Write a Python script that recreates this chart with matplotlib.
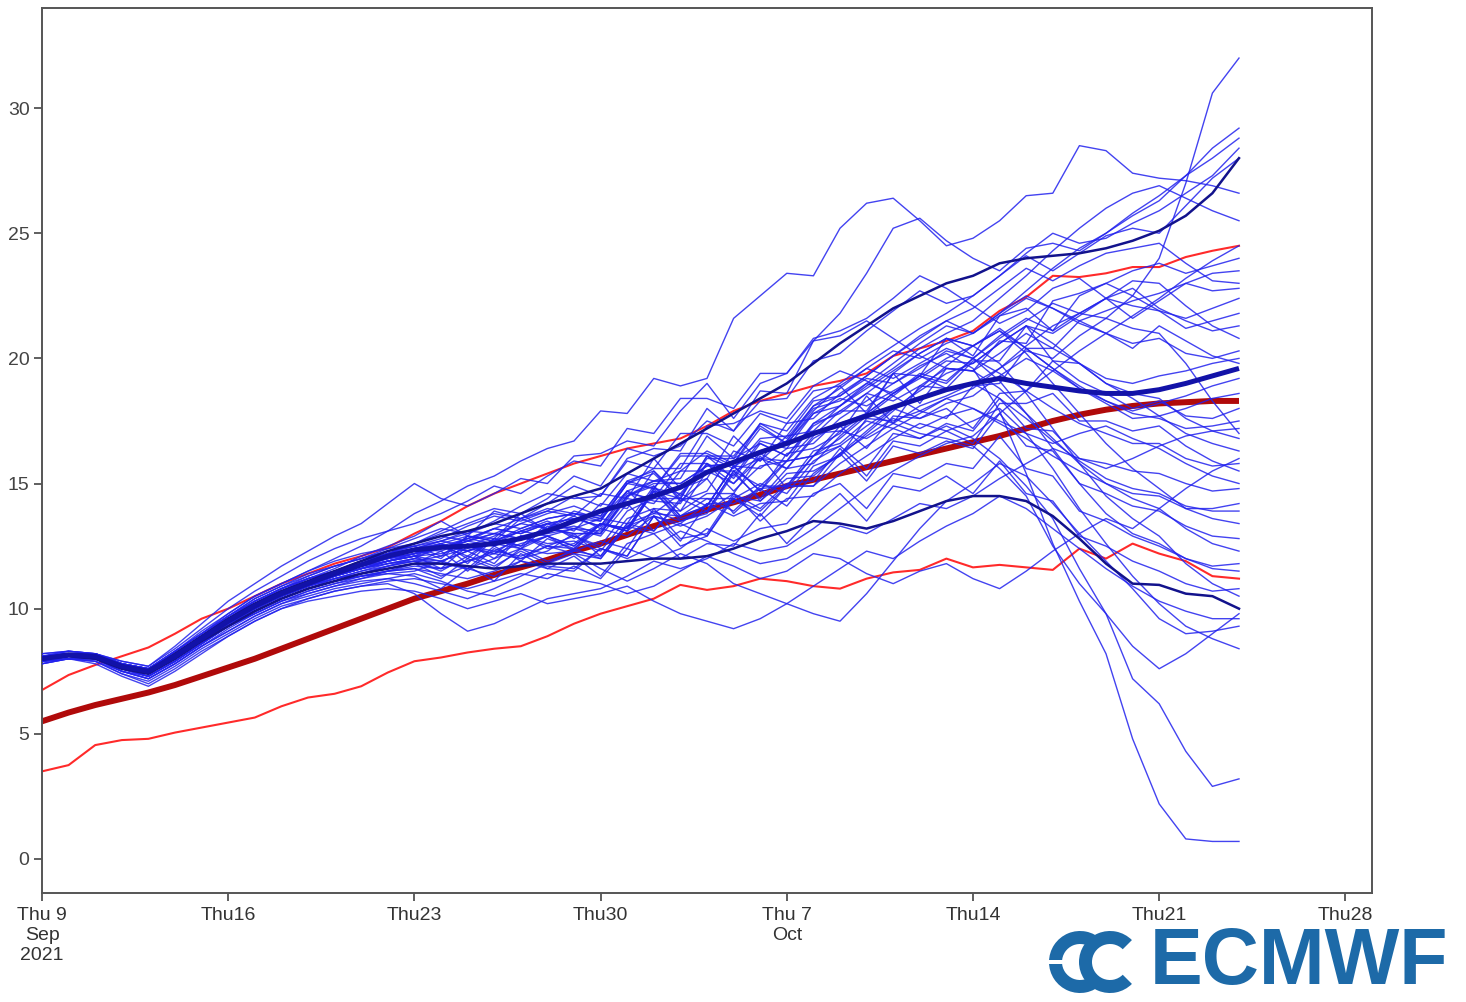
import numpy as np
import matplotlib
matplotlib.use("Agg")
import matplotlib.pyplot as plt
from matplotlib.patches import Wedge, Rectangle

# ---------------- data ----------------
days = list(range(46))                       # days after Thu 9 Sep 2021
tick_days = [0, 7, 14, 21, 28, 35, 42, 49]
tick_labels = ["Thu 9\nSep\n2021", "Thu16", "Thu23", "Thu30",
               "Thu 7\nOct", "Thu14", "Thu21", "Thu28"]
y_ticks = [0, 5, 10, 15, 20, 25, 30]

clim_mean = [5.5, 5.85, 6.15, 6.4, 6.65, 6.95, 7.3, 7.65, 8.0, 8.4,
             8.8, 9.2, 9.6, 10.0, 10.4, 10.7, 11.0, 11.35, 11.65, 11.95,
             12.3, 12.6, 12.95, 13.3, 13.6, 13.95, 14.25, 14.55, 14.9, 15.15,
             15.4, 15.65, 15.9, 16.15, 16.4, 16.65, 16.9, 17.2, 17.5, 17.75,
             17.95, 18.1, 18.2, 18.25, 18.3, 18.3]
clim_upper = [6.75, 7.35, 7.75, 8.1, 8.45, 9.0, 9.6, 10.0, 10.5, 11.0,
              11.4, 11.8, 12.1, 12.45, 13.0, 13.5, 14.1, 14.6, 15.0, 15.4,
              15.8, 16.1, 16.4, 16.6, 16.8, 17.3, 17.9, 18.3, 18.6, 18.9,
              19.1, 19.4, 20.1, 20.4, 20.7, 21.1, 21.9, 22.45, 23.3, 23.25,
              23.4, 23.65, 23.65, 24.05, 24.3, 24.5]
clim_lower = [3.5, 3.75, 4.55, 4.75, 4.8, 5.05, 5.25, 5.45, 5.65, 6.1,
              6.45, 6.6, 6.9, 7.45, 7.9, 8.05, 8.25, 8.4, 8.5, 8.9,
              9.4, 9.8, 10.1, 10.4, 10.95, 10.75, 10.9, 11.2, 11.1, 10.9,
              10.8, 11.2, 11.45, 11.55, 12.0, 11.65, 11.75, 11.65, 11.55, 12.4,
              12.0, 12.6, 12.2, 11.9, 11.3, 11.2]
ens_mean = [8.0, 8.15, 8.1, 7.7, 7.5, 8.1, 8.8, 9.5, 10.1, 10.6,
            11.0, 11.4, 11.75, 12.1, 12.35, 12.45, 12.5, 12.6, 12.8, 13.1,
            13.5, 13.9, 14.2, 14.5, 14.85, 15.45, 15.85, 16.25, 16.6, 17.0,
            17.35, 17.7, 18.05, 18.4, 18.75, 19.0, 19.2, 19.0, 18.85, 18.7,
            18.6, 18.6, 18.75, 19.0, 19.3, 19.6]
hires_a = [8.0, 8.2, 8.1, 7.7, 7.5, 8.2, 8.9, 9.6, 10.2, 10.7,
           11.1, 11.5, 11.9, 12.3, 12.6, 12.9, 13.1, 13.4, 13.8, 14.2,
           14.5, 14.8, 15.4, 16.0, 16.6, 17.2, 17.8, 18.4, 19.0, 19.8,
           20.6, 21.3, 22.0, 22.5, 23.0, 23.3, 23.8, 24.0, 24.1, 24.2,
           24.4, 24.7, 25.1, 25.7, 26.6, 28.0]
hires_b = [8.0, 8.1, 8.0, 7.6, 7.4, 8.0, 8.7, 9.3, 9.9, 10.4,
           10.8, 11.1, 11.4, 11.6, 11.8, 11.8, 11.7, 11.6, 11.7, 11.8,
           11.8, 11.8, 11.9, 12.0, 12.0, 12.1, 12.4, 12.8, 13.1, 13.5,
           13.4, 13.2, 13.5, 13.9, 14.3, 14.5, 14.5, 14.3, 13.7, 12.8,
           11.8, 11.0, 10.95, 10.6, 10.5, 10.0]

m01 = [8.0, 8.2, 8.1, 7.8, 7.6, 8.2, 8.9, 9.6, 10.2, 10.7,
       11.1, 11.5, 11.9, 12.2, 12.5, 12.1, 12.9, 12.7, 13.6, 13.2,
       13.9, 13.6, 14.7, 13.8, 14.6, 15.8, 14.7, 15.7, 15.9, 17.0,
       17.1, 16.8, 17.4, 18.1, 18.5, 19.0, 19.6, 20.3, 20.0, 20.9,
       21.6, 22.5, 24.0, 27.0, 30.6, 32.0]
m02 = [8.1, 8.3, 8.2, 7.8, 7.6, 8.3, 9.0, 9.8, 10.5, 11.0,
       11.5, 12.0, 12.5, 13.1, 13.8, 14.3, 14.9, 15.3, 15.9, 16.4,
       16.7, 17.9, 17.8, 19.2, 18.9, 19.2, 21.6, 22.5, 23.4, 23.3,
       25.2, 26.2, 26.4, 25.5, 24.5, 24.8, 25.5, 26.5, 26.6, 28.5,
       28.3, 27.4, 27.2, 27.1, 26.9, 26.6]
m03 = [8.0, 8.2, 8.2, 7.8, 7.5, 8.2, 8.9, 9.6, 10.2, 10.8,
       11.3, 11.7, 12.0, 12.4, 12.8, 13.2, 13.0, 13.5, 14.1, 14.6,
       14.4, 14.5, 16.0, 16.4, 16.3, 18.0, 17.1, 18.7, 18.6, 20.7,
       21.8, 23.4, 25.2, 25.6, 24.7, 24.0, 23.5, 24.4, 24.6, 24.3,
       25.0, 25.8, 26.5, 27.3, 28.0, 28.8]
m04 = [8.2, 8.3, 8.2, 7.9, 7.7, 8.5, 9.4, 10.3, 11.0, 11.7,
       12.3, 12.9, 13.4, 14.2, 15.0, 14.4, 14.1, 14.6, 15.2, 15.0,
       16.1, 16.2, 16.7, 16.5, 17.9, 19.0, 17.6, 19.0, 19.4, 20.8,
       21.1, 21.6, 22.4, 23.3, 22.8, 22.1, 21.4, 21.9, 22.8, 23.2,
       22.4, 21.6, 22.3, 23.0, 23.4, 23.5]
m05 = [7.9, 8.1, 8.1, 7.7, 7.5, 8.1, 8.9, 9.6, 10.2, 10.7,
       11.2, 11.6, 12.1, 12.5, 12.9, 13.5, 12.9, 13.9, 13.6, 13.9,
       13.7, 14.6, 14.4, 16.0, 14.8, 15.2, 16.9, 15.9, 17.4, 17.6,
       18.6, 19.3, 20.1, 20.8, 21.5, 21.0, 21.8, 22.7, 23.6, 24.4,
       25.0, 25.7, 26.3, 27.3, 28.4, 29.2]
m06 = [8.0, 8.2, 8.0, 7.6, 7.4, 8.0, 8.8, 9.5, 10.1, 10.6,
       11.0, 11.5, 11.9, 12.2, 12.4, 12.7, 12.5, 12.9, 13.4, 13.2,
       13.0, 13.0, 14.5, 15.0, 15.0, 15.7, 15.8, 17.4, 17.1, 18.4,
       19.0, 19.8, 20.5, 21.2, 21.8, 22.5, 23.3, 24.2, 25.0, 24.6,
       24.8, 25.4, 25.9, 26.6, 27.3, 28.4]
m07 = [8.1, 8.2, 8.1, 7.7, 7.6, 8.3, 9.1, 9.8, 10.5, 11.0,
       11.5, 11.9, 12.2, 12.4, 12.6, 13.1, 13.6, 14.0, 13.8, 14.4,
       15.3, 14.9, 16.4, 16.1, 16.5, 17.5, 17.1, 18.3, 18.4, 19.9,
       20.2, 21.1, 21.9, 22.7, 22.2, 22.5, 23.3, 24.1, 23.5, 24.2,
       24.9, 25.2, 25.0, 26.1, 27.2, 28.0]
m08 = [7.9, 8.1, 8.0, 7.6, 7.4, 8.0, 8.7, 9.4, 10.0, 10.5,
       10.9, 11.3, 11.7, 12.0, 12.2, 12.4, 12.8, 12.6, 13.1, 13.5,
       13.1, 14.2, 14.0, 15.5, 14.3, 14.7, 16.3, 15.9, 16.9, 17.1,
       18.1, 18.9, 19.6, 20.4, 21.0, 21.5, 22.4, 23.3, 24.3, 25.2,
       26.0, 26.6, 26.9, 26.4, 25.9, 25.5]
m09 = [8.0, 8.1, 8.1, 7.7, 7.5, 8.1, 8.8, 9.5, 10.1, 10.6,
       11.0, 11.4, 11.8, 12.1, 12.4, 12.0, 12.9, 12.8, 13.8, 13.1,
       13.6, 13.5, 15.0, 15.4, 14.4, 16.1, 16.1, 17.3, 16.6, 17.9,
       18.9, 17.8, 19.4, 19.3, 20.8, 20.1, 21.7, 22.0, 21.1, 22.5,
       23.0, 23.5, 23.8, 23.4, 23.7, 24.0]
m10 = [8.1, 8.2, 8.2, 7.8, 7.6, 8.3, 9.0, 9.7, 10.4, 10.9,
       11.4, 11.7, 12.0, 12.3, 12.5, 12.8, 13.3, 13.7, 13.5, 13.9,
       14.5, 14.1, 15.4, 15.1, 15.5, 16.3, 15.8, 16.3, 16.7, 18.1,
       18.5, 19.3, 20.1, 20.9, 21.5, 22.0, 22.8, 23.6, 23.1, 23.7,
       24.2, 24.4, 24.6, 23.8, 23.1, 23.0]
m11 = [7.9, 8.0, 8.0, 7.5, 7.3, 7.9, 8.6, 9.3, 9.9, 10.4,
       10.8, 11.2, 11.5, 11.8, 12.0, 11.9, 12.3, 12.6, 12.4, 12.9,
       13.2, 13.6, 13.4, 14.9, 13.7, 14.1, 15.7, 14.7, 15.9, 16.1,
       17.1, 17.8, 18.6, 19.4, 19.1, 20.0, 20.9, 21.6, 21.1, 21.8,
       22.4, 22.1, 21.9, 21.6, 22.0, 22.4]
m12 = [8.0, 8.2, 8.1, 7.7, 7.5, 8.2, 8.9, 9.5, 10.1, 10.7,
       11.1, 11.5, 11.8, 12.1, 12.3, 12.5, 12.3, 12.7, 13.1, 13.4,
       13.2, 13.1, 14.5, 14.9, 13.9, 15.5, 15.5, 16.0, 15.6, 16.9,
       17.9, 17.9, 19.4, 18.2, 19.6, 19.5, 20.7, 20.6, 22.3, 22.6,
       23.0, 22.5, 21.9, 21.2, 21.5, 21.8]
m13 = [8.1, 8.2, 8.1, 7.8, 7.6, 8.2, 8.9, 9.7, 10.3, 10.8,
       11.2, 11.5, 11.8, 12.0, 12.3, 12.6, 12.9, 12.7, 13.2, 13.6,
       13.8, 13.6, 15.0, 14.8, 16.2, 16.2, 15.7, 16.2, 16.7, 18.0,
       18.3, 19.0, 18.6, 19.2, 19.9, 19.8, 20.6, 21.3, 21.0, 21.7,
       22.4, 22.8, 22.0, 21.5, 21.1, 21.3]
m14 = [7.9, 8.1, 8.0, 7.6, 7.4, 8.0, 8.7, 9.4, 10.0, 10.5,
       10.9, 11.3, 11.6, 11.9, 12.1, 11.6, 12.5, 12.2, 12.9, 12.5,
       12.4, 13.4, 13.1, 14.7, 13.5, 13.8, 15.4, 14.4, 15.6, 15.8,
       16.9, 17.8, 18.6, 19.3, 19.0, 20.0, 20.8, 21.5, 22.2, 21.8,
       22.4, 23.1, 23.0, 22.1, 21.3, 20.8]
m15 = [8.0, 8.2, 8.1, 7.7, 7.5, 8.1, 8.8, 9.5, 10.2, 10.7,
       11.1, 11.5, 11.9, 12.2, 12.4, 12.3, 12.7, 13.0, 12.8, 13.2,
       13.0, 13.0, 14.5, 15.1, 15.2, 16.9, 16.0, 17.4, 16.8, 18.1,
       18.8, 19.6, 20.3, 20.0, 20.6, 21.0, 21.8, 22.5, 22.0, 21.4,
       21.0, 20.6, 20.8, 20.2, 20.0, 20.3]
m16 = [8.2, 8.3, 8.2, 7.9, 7.7, 8.4, 9.2, 10.0, 10.7, 11.3,
       11.9, 12.4, 12.8, 13.1, 13.4, 13.8, 14.3, 14.9, 14.6, 15.3,
       15.9, 15.7, 17.2, 17.0, 18.4, 18.4, 18.0, 19.4, 19.4, 20.7,
       20.9, 21.5, 20.8, 20.1, 19.6, 19.5, 20.2, 21.0, 20.4, 19.8,
       19.2, 19.0, 19.3, 19.5, 19.8, 20.0]
m17 = [8.0, 8.1, 8.1, 7.7, 7.5, 8.1, 8.8, 9.5, 10.1, 10.6,
       11.0, 11.3, 11.6, 11.9, 12.1, 12.6, 11.8, 12.8, 12.5, 12.9,
       12.3, 13.4, 13.2, 14.7, 13.6, 13.9, 15.5, 14.3, 15.4, 15.5,
       16.1, 17.6, 17.5, 17.9, 17.6, 18.9, 19.0, 20.4, 20.4, 21.5,
       21.0, 20.4, 21.3, 20.7, 20.1, 19.8]
m18 = [7.9, 8.0, 8.0, 7.6, 7.3, 7.9, 8.6, 9.3, 9.9, 10.4,
       10.8, 11.1, 11.4, 11.7, 12.0, 11.8, 11.6, 12.0, 12.4, 12.2,
       12.3, 12.1, 13.4, 13.8, 13.7, 14.4, 14.4, 15.0, 14.6, 15.9,
       16.5, 17.3, 18.0, 17.6, 18.2, 18.5, 19.3, 20.0, 19.5, 18.8,
       18.3, 17.9, 18.2, 18.5, 18.9, 19.2]
m19 = [8.1, 8.2, 8.2, 7.8, 7.6, 8.3, 9.0, 9.7, 10.3, 10.8,
       11.2, 11.5, 11.8, 12.0, 12.2, 12.4, 12.7, 12.5, 12.9, 13.1,
       13.3, 13.0, 14.4, 14.2, 15.5, 15.5, 15.0, 16.0, 15.9, 17.4,
       17.8, 18.6, 19.4, 20.2, 20.8, 20.5, 21.2, 20.4, 19.6, 18.8,
       18.2, 17.6, 17.7, 18.0, 18.4, 18.6]
m20 = [8.0, 8.2, 8.1, 7.7, 7.4, 8.0, 8.8, 9.5, 10.1, 10.6,
       11.0, 11.4, 11.7, 12.0, 12.2, 12.6, 12.0, 12.8, 12.5, 13.4,
       12.8, 13.4, 13.1, 14.7, 14.4, 13.9, 15.5, 14.9, 15.9, 16.1,
       17.3, 16.4, 17.7, 17.6, 18.0, 17.2, 18.6, 18.7, 19.9, 19.1,
       18.6, 18.0, 18.3, 17.7, 17.6, 18.0]
m21 = [7.9, 8.1, 8.0, 7.6, 7.4, 8.0, 8.7, 9.4, 10.0, 10.5,
       10.9, 11.2, 11.5, 11.7, 11.9, 11.8, 12.6, 12.0, 12.9, 12.6,
       12.7, 12.3, 13.6, 14.0, 13.9, 14.6, 14.6, 16.1, 14.8, 16.1,
       16.8, 17.7, 18.5, 19.3, 20.0, 20.5, 21.1, 20.4, 19.6, 18.9,
       18.3, 17.8, 17.6, 17.2, 17.3, 17.5]
m22 = [8.0, 8.2, 8.1, 7.7, 7.5, 8.2, 8.9, 9.6, 10.2, 10.7,
       11.1, 11.4, 11.7, 11.9, 12.1, 12.2, 12.5, 12.3, 12.8, 13.0,
       13.2, 12.9, 14.2, 13.1, 14.3, 15.2, 13.8, 14.8, 14.9, 16.3,
       16.6, 17.5, 17.2, 17.8, 18.4, 18.8, 19.6, 20.5, 21.3, 21.8,
       21.6, 21.2, 21.0, 19.8, 18.3, 17.0]
m23 = [8.1, 8.2, 8.2, 7.8, 7.6, 8.2, 8.9, 9.6, 10.3, 10.8,
       11.2, 11.5, 11.8, 12.1, 12.4, 12.6, 12.3, 12.7, 13.1, 12.9,
       12.5, 13.4, 13.2, 14.8, 13.7, 14.1, 15.7, 14.7, 16.2, 16.4,
       17.0, 18.5, 17.4, 18.9, 18.8, 19.9, 19.9, 21.3, 19.9, 19.8,
       19.0, 18.6, 18.4, 17.6, 17.1, 16.8]
m24 = [7.9, 8.1, 8.0, 7.6, 7.3, 7.9, 8.6, 9.3, 9.9, 10.4,
       10.8, 11.1, 11.4, 11.6, 11.8, 12.3, 11.5, 12.4, 12.0, 12.5,
       12.2, 12.0, 13.3, 13.7, 12.7, 14.2, 14.2, 14.8, 14.1, 15.4,
       16.2, 17.1, 18.0, 18.7, 19.4, 19.8, 20.6, 21.3, 20.6, 19.8,
       19.0, 18.4, 17.7, 17.0, 16.6, 16.3]
m25 = [8.0, 8.2, 8.1, 7.7, 7.5, 8.1, 8.8, 9.5, 10.1, 10.6,
       11.0, 11.4, 11.8, 12.2, 12.6, 13.0, 13.4, 13.8, 13.6, 14.2,
       14.9, 14.5, 15.9, 15.6, 17.0, 17.0, 16.5, 17.8, 17.4, 18.7,
       18.9, 19.6, 19.2, 19.8, 20.4, 20.0, 19.4, 18.7, 18.0, 17.4,
       17.0, 16.6, 16.6, 16.0, 15.7, 15.8]
m26 = [8.0, 8.1, 8.1, 7.7, 7.4, 8.0, 8.7, 9.4, 10.0, 10.5,
       10.9, 11.3, 11.6, 11.9, 12.1, 11.9, 12.3, 11.8, 12.9, 12.4,
       12.6, 13.4, 13.1, 13.9, 13.5, 13.9, 14.6, 14.0, 15.0, 15.1,
       16.4, 15.3, 16.7, 16.5, 17.1, 16.6, 18.2, 18.2, 18.6, 17.5,
       17.5, 17.1, 17.3, 16.5, 15.9, 15.5]
m27 = [8.1, 8.3, 8.2, 7.8, 7.6, 8.3, 9.0, 9.7, 10.4, 10.9,
       11.3, 11.7, 12.0, 12.3, 12.5, 12.7, 13.0, 13.4, 13.2, 13.6,
       13.8, 13.5, 15.0, 15.6, 15.6, 17.3, 17.4, 17.9, 17.6, 18.9,
       19.5, 19.1, 18.5, 17.9, 18.4, 18.0, 17.5, 17.0, 16.6, 17.0,
       17.3, 16.8, 16.4, 15.8, 15.3, 15.0]
m28 = [7.9, 8.0, 8.0, 7.5, 7.2, 7.8, 8.5, 9.2, 9.8, 10.3,
       10.6, 10.9, 11.2, 11.5, 11.7, 11.6, 11.9, 12.2, 12.0, 12.3,
       13.0, 12.1, 13.4, 13.1, 14.4, 14.4, 13.9, 14.9, 14.9, 16.1,
       16.5, 15.6, 17.0, 16.8, 17.4, 17.1, 18.4, 17.2, 17.1, 16.0,
       15.8, 15.5, 15.4, 15.0, 14.7, 14.8]
m29 = [8.0, 8.2, 8.1, 7.7, 7.5, 8.1, 8.8, 9.4, 10.0, 10.5,
       10.9, 11.2, 11.4, 11.6, 11.8, 11.3, 11.7, 11.1, 12.2, 11.6,
       11.5, 12.4, 12.1, 13.7, 12.5, 12.9, 14.5, 14.3, 15.2, 15.3,
       16.2, 16.9, 17.6, 17.2, 17.7, 18.0, 17.4, 16.8, 16.1, 15.5,
       15.0, 14.6, 14.5, 14.0, 14.0, 14.2]
m30 = [8.0, 8.2, 8.1, 7.7, 7.4, 8.0, 8.7, 9.4, 10.0, 10.5,
       10.9, 11.3, 11.6, 11.9, 12.1, 12.4, 12.8, 13.2, 13.0, 13.4,
       13.6, 13.3, 14.7, 15.1, 15.0, 15.7, 15.8, 17.2, 16.6, 17.8,
       18.4, 18.1, 18.7, 19.3, 18.8, 19.0, 18.4, 17.6, 16.7, 15.9,
       15.2, 14.8, 14.6, 14.1, 13.9, 13.9]
m31 = [8.1, 8.2, 8.1, 7.7, 7.5, 8.2, 8.9, 9.6, 10.2, 10.7,
       11.1, 11.4, 11.6, 11.8, 11.9, 11.5, 12.1, 11.7, 12.3, 11.8,
       12.4, 12.0, 13.3, 13.0, 13.4, 14.2, 13.7, 14.2, 14.3, 15.7,
       16.1, 17.0, 17.9, 18.8, 19.7, 20.5, 21.1, 20.2, 19.0, 17.8,
       16.6, 15.6, 14.8, 14.0, 13.6, 13.4]
m32 = [7.9, 8.1, 8.0, 7.6, 7.3, 7.9, 8.6, 9.3, 9.8, 10.3,
       10.7, 11.0, 11.3, 11.5, 11.6, 11.4, 11.2, 11.5, 11.9, 11.7,
       11.6, 12.4, 12.1, 13.7, 13.4, 12.9, 14.4, 13.9, 14.9, 14.9,
       16.2, 15.1, 16.5, 16.2, 16.7, 16.4, 17.8, 16.5, 16.3, 15.0,
       14.6, 14.1, 13.9, 13.3, 12.9, 12.8]
m33 = [8.0, 8.2, 8.1, 7.7, 7.5, 8.1, 8.8, 9.5, 10.1, 10.6,
       11.0, 11.3, 11.6, 11.8, 12.0, 12.5, 12.1, 12.8, 12.4, 13.3,
       12.9, 12.5, 13.9, 14.4, 14.4, 16.1, 15.2, 16.6, 16.1, 17.3,
       17.9, 18.6, 18.3, 18.9, 19.6, 19.5, 18.8, 17.8, 16.8, 15.8,
       15.0, 14.4, 14.0, 13.2, 12.6, 12.3]
m34 = [7.8, 8.0, 7.9, 7.4, 7.1, 7.7, 8.4, 9.0, 9.6, 10.1,
       10.4, 10.7, 10.9, 11.1, 11.2, 11.0, 10.8, 11.1, 11.4, 11.2,
       11.7, 11.2, 12.4, 12.0, 12.4, 13.2, 12.7, 13.2, 13.4, 14.6,
       15.0, 14.0, 15.4, 15.2, 15.8, 15.6, 16.9, 15.6, 15.3, 13.9,
       13.5, 12.9, 12.5, 12.0, 11.7, 11.8]
m35 = [8.0, 8.1, 8.1, 7.7, 7.5, 8.1, 8.8, 9.5, 10.0, 10.5,
       10.9, 11.2, 11.4, 11.7, 11.9, 12.1, 12.4, 12.2, 12.6, 12.9,
       12.5, 13.4, 13.2, 14.8, 14.6, 14.1, 15.7, 15.6, 16.4, 16.6,
       17.6, 18.3, 19.0, 19.6, 20.3, 20.0, 19.1, 17.8, 16.4, 15.0,
       13.8, 13.0, 12.6, 12.0, 11.6, 11.5]
m36 = [8.0, 8.2, 8.1, 7.7, 7.4, 8.0, 8.7, 9.4, 9.9, 10.4,
       10.8, 11.1, 11.3, 11.4, 11.3, 10.8, 11.6, 11.3, 11.9, 11.6,
       12.1, 11.3, 12.6, 13.0, 12.0, 12.6, 12.5, 13.8, 12.6, 13.7,
       14.6, 13.5, 14.9, 14.7, 15.3, 14.6, 15.9, 14.6, 14.3, 12.9,
       12.5, 11.9, 11.5, 11.0, 10.7, 10.8]
m37 = [8.1, 8.2, 8.1, 7.8, 7.6, 8.2, 8.9, 9.6, 10.2, 10.7,
       11.1, 11.4, 11.7, 11.9, 12.2, 12.4, 12.7, 13.0, 12.8, 13.2,
       13.7, 13.2, 14.6, 14.4, 15.8, 15.8, 15.3, 16.7, 16.4, 17.8,
       18.1, 18.8, 19.5, 20.2, 20.8, 20.5, 19.8, 18.6, 17.2, 15.8,
       14.5, 13.6, 12.9, 11.8, 11.0, 10.5]
m38 = [7.8, 8.0, 7.9, 7.4, 7.0, 7.6, 8.3, 8.9, 9.5, 10.0,
       10.3, 10.5, 10.7, 10.8, 10.7, 10.4, 10.0, 10.3, 10.6, 10.2,
       10.4, 10.6, 10.9, 10.3, 9.8, 9.5, 9.2, 9.6, 10.2, 10.9,
       11.6, 12.3, 12.0, 12.7, 13.3, 13.8, 14.5, 14.0, 13.2, 12.4,
       11.6, 10.9, 10.3, 9.9, 9.6, 9.6]
m39 = [7.9, 8.0, 8.0, 7.5, 7.2, 7.8, 8.5, 9.1, 9.7, 10.2,
       10.6, 10.9, 11.1, 11.2, 11.0, 10.7, 10.4, 10.8, 11.3, 11.8,
       12.2, 11.6, 11.1, 11.6, 12.2, 11.8, 11.0, 10.6, 10.2, 9.8,
       9.5, 10.6, 11.9, 13.2, 14.3, 15.0, 15.8, 15.3, 14.2, 13.0,
       11.9, 10.8, 9.6, 9.0, 9.1, 9.3]
m40 = [8.0, 8.1, 8.1, 7.6, 7.4, 8.0, 8.7, 9.3, 9.9, 10.4,
       10.8, 11.1, 11.3, 11.5, 11.6, 11.2, 12.0, 11.6, 12.4, 11.9,
       12.3, 12.7, 12.4, 14.0, 12.8, 13.0, 14.6, 13.5, 14.4, 14.5,
       15.4, 16.1, 16.8, 17.4, 17.1, 17.5, 18.0, 17.0, 15.6, 14.0,
       12.6, 11.3, 10.2, 9.3, 8.8, 8.4]
m41 = [8.0, 8.2, 8.1, 7.7, 7.5, 8.1, 8.8, 9.5, 10.1, 10.6,
       11.0, 11.3, 11.6, 11.9, 12.2, 12.5, 12.8, 13.2, 13.0, 13.4,
       13.6, 13.3, 14.7, 14.3, 14.2, 15.8, 15.0, 16.2, 15.6, 16.8,
       17.4, 17.8, 17.4, 17.0, 16.8, 16.5, 15.6, 14.5, 12.5, 11.0,
       9.8, 7.2, 6.2, 4.3, 2.9, 3.2]
m42 = [8.1, 8.2, 8.2, 7.8, 7.6, 8.2, 8.9, 9.6, 10.3, 10.8,
       11.2, 11.5, 11.8, 12.1, 12.4, 12.7, 13.1, 13.0, 13.4, 13.8,
       14.1, 13.7, 15.1, 14.8, 16.1, 16.1, 15.6, 16.8, 16.9, 18.3,
       18.5, 19.2, 19.0, 19.7, 20.2, 19.6, 17.9, 15.4, 12.6, 10.3,
       8.2, 4.8, 2.2, 0.8, 0.7, 0.7]
m43 = [7.9, 8.1, 8.0, 7.6, 7.3, 7.9, 8.6, 9.3, 9.8, 10.3,
       10.7, 11.0, 11.2, 11.4, 11.5, 11.9, 11.6, 12.5, 11.9, 12.8,
       12.4, 13.2, 12.9, 13.7, 13.3, 13.7, 14.4, 13.7, 14.9, 14.9,
       15.8, 16.5, 17.2, 16.8, 17.3, 16.8, 16.0, 14.9, 13.6, 11.6,
       9.8, 8.5, 7.6, 8.2, 9.0, 9.8]
m44 = [7.8, 8.0, 7.8, 7.3, 6.9, 7.5, 8.2, 8.9, 9.5, 10.0,
       10.4, 10.7, 10.9, 11.0, 10.6, 9.8, 9.1, 9.4, 9.9, 10.4,
       10.6, 10.8, 11.3, 11.9, 11.6, 12.0, 12.6, 12.3, 12.5, 13.2,
       14.0, 14.8, 15.5, 16.1, 16.6, 16.9, 17.8, 18.7, 19.5, 20.3,
       21.0, 21.7, 22.4, 23.2, 23.9, 24.5]
m45 = [8.0, 8.2, 8.1, 7.7, 7.5, 8.1, 8.8, 9.5, 10.1, 10.6,
       11.0, 11.4, 11.8, 12.2, 12.6, 12.9, 12.7, 13.2, 13.6, 14.0,
       13.8, 13.7, 15.1, 15.5, 14.5, 16.0, 16.0, 16.6, 16.1, 17.4,
       18.1, 19.0, 19.8, 20.6, 21.3, 21.0, 21.7, 22.4, 22.0, 21.5,
       21.9, 22.3, 22.6, 23.0, 22.7, 22.8]
m46 = [7.9, 8.0, 7.9, 7.5, 7.2, 7.8, 8.5, 9.1, 9.7, 10.2,
       10.5, 10.8, 11.0, 11.2, 11.4, 11.1, 10.7, 10.5, 10.9, 11.4,
       11.2, 11.0, 10.6, 10.9, 11.5, 12.1, 11.7, 11.2, 11.5, 12.2,
       12.0, 11.4, 11.0, 11.5, 11.8, 11.2, 10.8, 11.5, 12.3, 13.0,
       13.6, 13.2, 14.0, 14.8, 15.5, 16.0]
m47 = [8.0, 8.1, 8.0, 7.6, 7.4, 8.0, 8.7, 9.3, 9.9, 10.4,
       10.8, 11.1, 11.3, 11.5, 11.8, 11.6, 11.9, 12.3, 12.1, 12.5,
       12.9, 12.4, 12.0, 12.5, 13.1, 12.7, 12.2, 11.8, 12.0, 12.6,
       13.3, 13.0, 13.6, 14.2, 14.0, 14.5, 15.2, 15.8, 16.4, 16.0,
       15.6, 16.0, 16.5, 16.9, 17.1, 17.2]

members = [m01, m02, m03, m04, m05, m06, m07, m08, m09, m10,
           m11, m12, m13, m14, m15, m16, m17, m18, m19, m20,
           m21, m22, m23, m24, m25, m26, m27, m28, m29, m30,
           m31, m32, m33, m34, m35, m36, m37, m38, m39, m40,
           m41, m42, m43, m44, m45, m46, m47]

# ---------------- figure ----------------
W, H = 1466, 1002
fig = plt.figure(figsize=(W / 100, H / 100), dpi=100)
plt.rcParams['font.family'] = ['Liberation Sans', 'DejaVu Sans']

ax = fig.add_axes([42 / W, (H - 893) / H, (1372 - 42) / W, (893 - 8) / H])

def xs(vals):
    return days[:len(vals)]

ax.plot(xs(clim_lower), clim_lower, color='#ff2a2a', lw=1.5, zorder=2)
ax.plot(xs(clim_upper), clim_upper, color='#ff2a2a', lw=1.5, zorder=2)
ax.plot(xs(clim_mean), clim_mean, color='#b00a0a', lw=4.3, zorder=2,
        solid_capstyle='butt')

for m in members:
    ax.plot(xs(m), m, color='#2222ee', lw=1.0, alpha=0.85, zorder=3)

ax.plot(xs(hires_a), hires_a, color='#12128c', lw=1.8, zorder=4)
ax.plot(xs(hires_b), hires_b, color='#12128c', lw=1.8, zorder=4)
ax.plot(xs(ens_mean), ens_mean, color='#1212a8', lw=3.6, zorder=5,
        solid_capstyle='butt')

ax.set_xlim(0, 50)
ax.set_ylim(-1.36, 34.0)
ax.set_xticks(tick_days)
ax.set_xticklabels(tick_labels, fontsize=14, color='#333333',
                   linespacing=1.22)
ax.set_yticks(y_ticks)
ax.set_yticklabels([str(v) for v in y_ticks], fontsize=14, color='#444444')
ax.tick_params(axis='both', direction='out', length=6, width=1.2,
               color='#444444', pad=3)
ax.tick_params(axis='x', pad=4)
for s in ax.spines.values():
    s.set_color('#555555')
    s.set_linewidth(1.4)

# ---------------- ECMWF logo ----------------
ov = fig.add_axes([0, 0, 1, 1], zorder=10)
ov.set_xlim(0, W)
ov.set_ylim(H, 0)
ov.axis('off')
logo_blue = '#1d6aa8'
for cx in (1080, 1110):
    ov.add_patch(Wedge((cx, 962), 31, 45, 315, width=13,
                       facecolor=logo_blue, edgecolor='none'))
ov.add_patch(Rectangle((1046, 960), 26, 4, facecolor='white',
                       edgecolor='none'))
ov.text(1150, 1001, "ECMWF", fontsize=57, fontweight='bold',
        color=logo_blue, ha='left', va='bottom')

fig.savefig("out.png", dpi=100)
